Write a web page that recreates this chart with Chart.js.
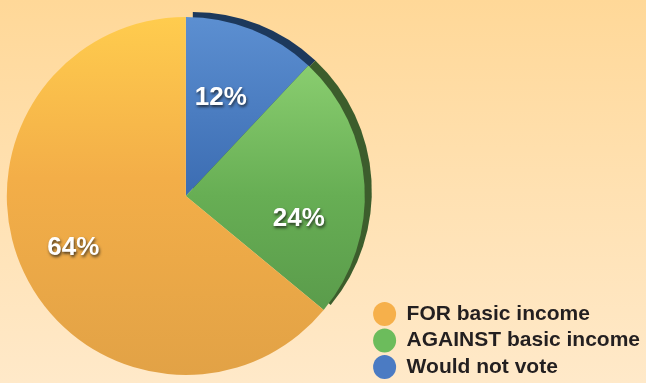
<!DOCTYPE html>
<html><head><meta charset="utf-8">
<script src="https://cdn.jsdelivr.net/npm/chart.js@4/dist/chart.umd.min.js"></script>
<style>
html,body{margin:0;padding:0;}
body{width:646px;height:383px;overflow:hidden;background:linear-gradient(180deg,#FFD898 0%,#FFE1B2 50%,#FFE9C9 100%);}
canvas{display:block;}
</style></head>
<body>
<canvas id="c" width="646" height="383"></canvas>
<script>
// ---- data ----
const categories = ['Would not vote', 'AGAINST basic income', 'FOR basic income'];
const shares = [12, 24, 64];
const valueLabels = ['12%', '24%', '64%'];

// ---- styles ----
const legendColors = ['#4B7BC3', '#6CBC5C', '#F6B04B'];
const sliceStops = [
  [[0, '#5C8FD1'], [0.52, '#3A6BB1'], [1, '#2F5E9E']],
  [[0, '#90D276'], [0.15, '#88CC6E'], [0.5, '#67AE54'], [0.9, '#579749'], [1, '#539146']],
  [[0, '#FFCC4E'], [0.45, '#F3AE48'], [1, '#E2A246']]
];
const rimColors = ['#1D395C', '#3C5D2C', 'rgba(0,0,0,0)'];
const rimShift = {x: 7, y: -5};
const pieRadius = 179;
const labelAngleFrac = [0.447, 0.663, 0.505];
const labelRadiusFrac = [0.592, 0.642, 0.688];

function sliceFill(c) {
  const ch = c.chart, a = ch.chartArea;
  const stops = sliceStops[c.dataIndex];
  if (!a) return stops[0][1];
  const cy = (a.top + a.bottom) / 2;
  const g = ch.ctx.createLinearGradient(0, cy - pieRadius, 0, cy + pieRadius);
  stops.forEach(s => g.addColorStop(s[0], s[1]));
  return g;
}

const rimPlugin = {
  id: 'rim',
  beforeDatasetsDraw(chart) {
    const ctx = chart.ctx;
    chart.getDatasetMeta(0).data.forEach((el, i) => {
      const ghost = Object.create(el);
      ghost.options = Object.assign({}, el.options, {backgroundColor: rimColors[i], borderWidth: 0});
      ctx.save();
      ctx.translate(rimShift.x, rimShift.y);
      ghost.draw(ctx);
      ctx.restore();
    });
  }
};

const labelPlugin = {
  id: 'sliceLabels',
  afterDatasetsDraw(chart) {
    const ctx = chart.ctx;
    chart.getDatasetMeta(0).data.forEach((el, i) => {
      const p = el.getProps(['x', 'y', 'startAngle', 'endAngle', 'outerRadius'], true);
      const ang = p.startAngle + labelAngleFrac[i] * (p.endAngle - p.startAngle);
      const r = labelRadiusFrac[i] * p.outerRadius;
      const x = p.x + Math.cos(ang) * r;
      const y = p.y + Math.sin(ang) * r;
      ctx.save();
      ctx.font = 'bold 26px "Liberation Sans", Arial, sans-serif';
      ctx.textAlign = 'center';
      ctx.textBaseline = 'alphabetic';
      ctx.shadowColor = 'rgba(20,20,20,0.75)';
      ctx.shadowBlur = 3;
      ctx.shadowOffsetX = 1;
      ctx.shadowOffsetY = 2;
      ctx.fillStyle = '#FFFFFF';
      ctx.fillText(valueLabels[i], x, y + 9.3);
      ctx.restore();
    });
  }
};

new Chart(document.getElementById('c'), {
  type: 'pie',
  data: {
    labels: categories,
    datasets: [{
      data: shares,
      backgroundColor: sliceFill,
      borderWidth: 0,
      radius: pieRadius
    }]
  },
  options: {
    responsive: false,
    animation: false,
    events: [],
    rotation: 0,
    layout: {padding: {left: 4, right: -4, top: 9, bottom: 0}},
    plugins: {
      tooltip: {enabled: false},
      legend: {
        position: 'right',
        align: 'end',
        reverse: true,
        labels: {
          usePointStyle: true,
          pointStyle: 'circle',
          pointStyleWidth: 23,
          boxHeight: 17,
          padding: 5.5,
          color: '#231F20',
          font: {family: '"Liberation Sans", Arial, sans-serif', size: 21, weight: 'bold'},
          generateLabels(chart) {
            return categories.map((t, i) => ({
              text: t,
              fillStyle: legendColors[i],
              strokeStyle: legendColors[i],
              lineWidth: 0,
              pointStyle: 'circle',
              hidden: false,
              index: i,
              fontColor: '#231F20'
            }));
          }
        }
      }
    }
  },
  plugins: [rimPlugin, labelPlugin]
});
</script>
</body></html>
